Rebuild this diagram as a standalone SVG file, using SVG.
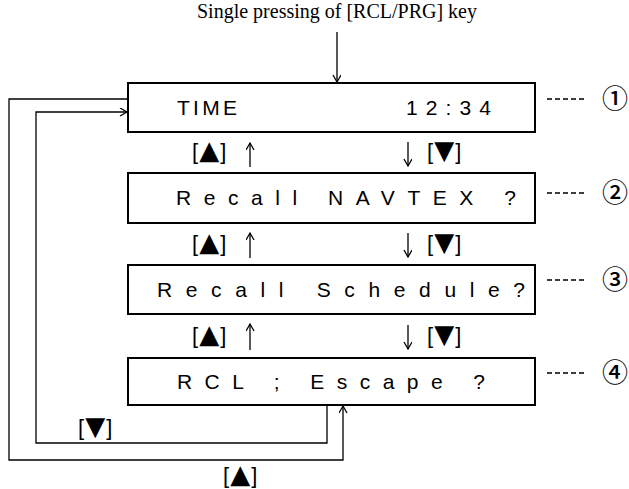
<svg xmlns="http://www.w3.org/2000/svg" width="629" height="489" viewBox="0 0 629 489">
  <style>
    .box { fill: #fff; stroke: #000; stroke-width: 2; }
    .lcd { font-family: "Liberation Sans", Arial, sans-serif; font-size: 21px; fill: #000; }
    .title { font-family: "Liberation Serif", "Times New Roman", serif; font-size: 20px; fill: #000; }
    .key { font-family: "Liberation Sans", Arial, sans-serif; font-size: 22px; fill: #000; }
    .tri { font-family: "DejaVu Sans", sans-serif; font-size: 26px; }
    .num { font-family: "Noto Sans CJK JP", "DejaVu Sans", sans-serif; font-size: 26px; font-weight: 500; fill: #000; }
    .wire { fill: none; stroke: #000; stroke-width: 1.3; }
    .dash { fill: none; stroke: #000; stroke-width: 1.3; stroke-dasharray: 5 3; }
  </style>
  <defs>
    <marker id="head" markerWidth="10" markerHeight="10" refX="8" refY="4" orient="auto" markerUnits="userSpaceOnUse">
      <path d="M1,0 L8,4 L1,8" fill="none" stroke="#000" stroke-width="1.3"/>
    </marker>
  </defs>

  <rect width="629" height="489" fill="#fff"/>

  <text class="title" x="337" y="18" text-anchor="middle">Single pressing of [RCL/PRG] key</text>

  <!-- display states -->
  <g id="state1">
    <rect class="box" x="128" y="83" width="407" height="49"/>
    <text class="lcd" x="177" y="115" textLength="60" lengthAdjust="spacing">TIME</text>
    <text class="lcd" x="406" y="115" textLength="85" lengthAdjust="spacing">12:34</text>
    <path class="dash" d="M547,99 H587"/>
    <text class="num" x="615" y="108" text-anchor="middle">①</text>
  </g>
  <g id="state2">
    <rect class="box" x="128" y="173" width="407" height="50"/>
    <text class="lcd" x="176" y="205" textLength="340" lengthAdjust="spacing">Recall NAVTEX ?</text>
    <path class="dash" d="M547,193 H587"/>
    <text class="num" x="615" y="202" text-anchor="middle">②</text>
  </g>
  <g id="state3">
    <rect class="box" x="128" y="265" width="407" height="49"/>
    <text class="lcd" x="157" y="297" textLength="368" lengthAdjust="spacing">Recall Schedule?</text>
    <path class="dash" d="M547,280 H587"/>
    <text class="num" x="615" y="289" text-anchor="middle">③</text>
  </g>
  <g id="state4">
    <rect class="box" x="128" y="358" width="407" height="47"/>
    <text class="lcd" x="177" y="389" textLength="308" lengthAdjust="spacing">RCL ; Escape ?</text>
    <path class="dash" d="M547,373 H587"/>
    <text class="num" x="615" y="382" text-anchor="middle">④</text>
  </g>

  <!-- key transitions -->
  <g id="connectors">
    <path class="wire" d="M337,32 V82" marker-end="url(#head)"/>
    <path class="wire" d="M250,167 V143" marker-end="url(#head)"/>
    <path class="wire" d="M408,142 V166" marker-end="url(#head)"/>
    <path class="wire" d="M250,258 V233" marker-end="url(#head)"/>
    <path class="wire" d="M408,233 V257" marker-end="url(#head)"/>
    <path class="wire" d="M250,350 V324" marker-end="url(#head)"/>
    <path class="wire" d="M408,325 V349" marker-end="url(#head)"/>
    <path class="wire" d="M327,405 V443 H36 V112 H127" marker-end="url(#head)"/>
    <path class="wire" d="M128,99 H9 V460 H343 V406" marker-end="url(#head)"/>
  </g>

  <g id="labels">
    <text class="key" x="192" y="159">[<tspan class="tri" dx="1">▲</tspan><tspan dx="1">]</tspan></text>
    <text class="key" x="427" y="159">[<tspan class="tri" dx="1">▼</tspan><tspan dx="1">]</tspan></text>
    <text class="key" x="192" y="251">[<tspan class="tri" dx="1">▲</tspan><tspan dx="1">]</tspan></text>
    <text class="key" x="427" y="251">[<tspan class="tri" dx="1">▼</tspan><tspan dx="1">]</tspan></text>
    <text class="key" x="192" y="343">[<tspan class="tri" dx="1">▲</tspan><tspan dx="1">]</tspan></text>
    <text class="key" x="427" y="343">[<tspan class="tri" dx="1">▼</tspan><tspan dx="1">]</tspan></text>
    <text class="key" x="78" y="435">[<tspan class="tri" dx="1">▼</tspan><tspan dx="1">]</tspan></text>
    <text class="key" x="223" y="483">[<tspan class="tri" dx="1">▲</tspan><tspan dx="1">]</tspan></text>
  </g>
</svg>
